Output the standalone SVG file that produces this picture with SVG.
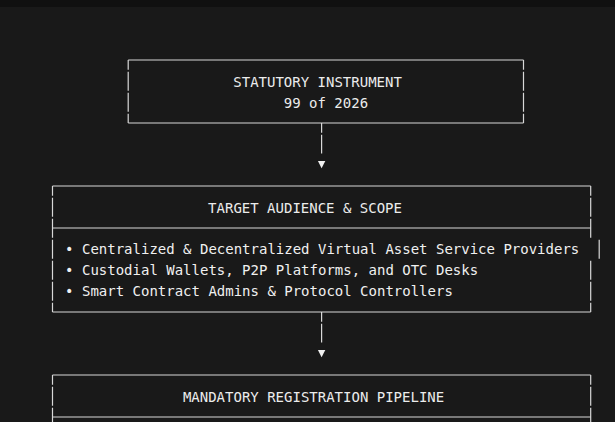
<svg xmlns="http://www.w3.org/2000/svg" width="615" height="422" viewBox="0 0 615 422">
  <style>
    .bg { fill: #191919; }
    .strip { fill: #101010; }
    .border { fill: none; stroke: #d8d8d8; stroke-width: 1.2; }
    .conn { fill: none; stroke: #d8d8d8; stroke-width: 1.2; }
    .head { fill: #ececec; }
    .arrow { fill: #f0f0f0; }
    text { font-family: "DejaVu Sans Mono", "Liberation Mono", monospace; font-size: 14px; fill: #f0f0f0; }
  </style>
  <defs>
    <path id="tri" d="M-3.7 -4 H3.7 L0 3.3 Z"/>
  </defs>
  <rect class="bg" x="0" y="0" width="615" height="422"/>
  <rect class="strip" x="0" y="0" width="615" height="7"/>

  <g id="node-statutory-instrument">
    <path class="border" d="M128.2 60H523.5 M128.2 123H523.5"/>
    <path class="border" d="M128.2 60V69.8 M128.2 71.8V90.8 M128.2 92.8V111.8 M128.2 113.8V123 M523.5 60V69.8 M523.5 71.8V90.8 M523.5 92.8V111.8 M523.5 113.8V123"/>
    <text class="head" x="233.3" y="86.5">STATUTORY INSTRUMENT</text>
    <text class="head" x="283.8" y="107.5">99 of 2026</text>
  </g>

  <g id="node-target-audience">
    <path class="border" d="M52.5 186H590.7 M52.5 228H590.7 M52.5 312H590.7"/>
    <path class="border" d="M52.5 186V195.8 M52.5 197.8V216.8 M52.5 218.8V237.8 M52.5 239.8V258.8 M52.5 260.8V279.8 M52.5 281.8V300.8 M52.5 302.8V312"/>
    <path class="border" d="M590.7 186V195.8 M590.7 197.8V216.8 M590.7 218.8V237.8 M599.2 239.8V258.8 M590.7 260.8V279.8 M590.7 281.8V300.8 M590.7 302.8V312"/>
    <text class="head" x="208.1" y="212.5">TARGET AUDIENCE &amp; SCOPE</text>
    <text x="65.1" y="254.3">• Centralized &amp; Decentralized Virtual Asset Service Providers</text>
    <text x="65.1" y="275.3">• Custodial Wallets, P2P Platforms, and OTC Desks</text>
    <text x="65.1" y="296.3">• Smart Contract Admins &amp; Protocol Controllers</text>
  </g>

  <g id="node-registration-pipeline">
    <path class="border" d="M52.5 375H590.7 M52.5 417H590.7"/>
    <path class="border" d="M52.5 375V384.8 M52.5 386.8V405.8 M52.5 407.8V426.8 M590.7 375V384.8 M590.7 386.8V405.8 M590.7 407.8V426.8"/>
    <text class="head" x="182.9" y="401.5">MANDATORY REGISTRATION PIPELINE</text>
  </g>

  <g id="connectors">
    <path class="conn" d="M321.6 123V132.8 M321.6 134.8V153.6"/>
    <use href="#tri" class="arrow" x="321.6" y="165"/>
    <path class="conn" d="M321.6 312V321.8 M321.6 323.8V342.6"/>
    <use href="#tri" class="arrow" x="321.6" y="354"/>
  </g>
</svg>
